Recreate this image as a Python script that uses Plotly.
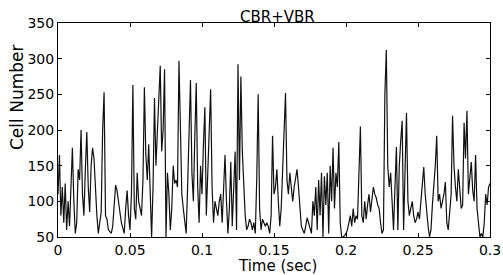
import plotly.graph_objects as go

dt = 0.001
cells = [
    110, 165, 80, 120, 70, 125, 60, 100, 65, 120,
    175, 100, 55, 70, 145, 130, 200, 110, 80, 145,
    197, 120, 85, 150, 175, 160, 110, 80, 55, 75,
    85, 200, 253, 80, 75, 60, 58, 55, 65, 95,
    123, 115, 95, 85, 70, 60, 55, 90, 115, 80,
    60, 110, 263, 90, 75, 140, 100, 90, 80, 130,
    260, 165, 130, 180, 110, 50, 120, 245, 150, 200,
    230, 290, 170, 200, 285, 50, 140, 110, 60, 90,
    150, 125, 130, 120, 297, 180, 110, 90, 70, 55,
    120, 200, 270, 140, 100, 190, 266, 120, 70, 150,
    110, 180, 232, 80, 150, 200, 257, 120, 70, 100,
    90, 80, 100, 110, 70, 120, 165, 100, 55, 90,
    155, 65, 120, 170, 60, 292, 130, 275, 170, 110,
    80, 60, 65, 75, 70, 60, 70, 55, 130, 250,
    90, 60, 75, 70, 65, 70, 65, 55, 80, 192,
    110, 120, 145, 100, 65, 90, 145, 180, 252, 130,
    110, 140, 120, 100, 120, 130, 145, 120, 90, 65,
    60, 55, 65, 77, 70, 60, 55, 100, 80, 120,
    60, 130, 80, 140, 50, 135, 95, 140, 55, 150,
    100, 175, 90, 140, 120, 183, 70, 50, 50, 52,
    55, 60, 70, 80, 65, 90, 70, 80, 75, 140,
    205, 80, 70, 100, 75, 95, 110, 85, 100, 120,
    110, 105, 95, 90, 70, 55, 60, 250, 312, 150,
    120, 140, 100, 60, 120, 176, 60, 150, 185, 213,
    60, 150, 224, 100, 80, 90, 100, 80, 70, 75,
    85, 75, 100, 130, 148, 110, 80, 65, 50, 60,
    95, 120, 150, 192, 100, 110, 90, 100, 110, 127,
    70, 60, 85, 110, 220, 150, 120, 100, 145, 120,
    90, 95, 210, 160, 227, 110, 130, 155, 115, 100,
    165, 90, 70, 50, 55, 50, 70, 110, 95, 120,
    125,
]
times = [i * dt for i in range(len(cells))]

x_ticks = [0, 0.05, 0.1, 0.15, 0.2, 0.25, 0.3]
x_tick_labels = ["0", "0.05", "0.1", "0.15", "0.2", "0.25", "0.3"]
y_ticks = [50, 100, 150, 200, 250, 300, 350]

title_text = "CBR+VBR"
x_title = "Time (sec)"
y_title = "Cell Number"

FONT = "DejaVu Sans"

W, H = 503, 275
L, R, T, B = 58, 13, 23, 38

fig = go.Figure()
fig.add_trace(go.Scatter(
    x=times, y=cells, mode="lines",
    line=dict(color="#111111", width=1.2),
    showlegend=False, hoverinfo="skip",
))

axis_common = dict(
    showgrid=False, zeroline=False,
    showline=True, linecolor="black", linewidth=1, mirror="ticks",
    ticks="inside", ticklen=4, tickcolor="black",
    tickfont=dict(family=FONT, size=14, color="black"),
)

pw = W - L - R
ph = H - T - B


def px_to_paper(px, py):
    return (px - L) / pw, (H - B - py) / ph


tx, ty = px_to_paper(277, 17)
xx, xy = px_to_paper(277, 266)
yx, yy = px_to_paper(17, 98)

fig.update_layout(
    width=W, height=H,
    margin=dict(l=L, r=R, t=T, b=B, autoexpand=False),
    paper_bgcolor="white", plot_bgcolor="white",
    xaxis=dict(range=[0, 0.3], tickvals=x_ticks, ticktext=x_tick_labels, **axis_common),
    yaxis=dict(range=[50, 350], tickvals=y_ticks, **axis_common),
    annotations=[
        dict(text=title_text, x=tx, y=ty, xref="paper", yref="paper",
             xanchor="center", yanchor="middle", showarrow=False,
             font=dict(family=FONT, size=15, color="black")),
        dict(text=x_title, x=xx, y=xy, xref="paper", yref="paper",
             xanchor="center", yanchor="middle", showarrow=False,
             font=dict(family=FONT, size=15, color="black")),
        dict(text=y_title, x=yx, y=yy, xref="paper", yref="paper",
             xanchor="center", yanchor="middle", textangle=-90, showarrow=False,
             font=dict(family=FONT, size=17, color="black")),
    ],
)

fig.write_html(
    "out.html",
    config={"displayModeBar": False},
    post_script="document.body.style.margin='0';document.body.style.overflow='hidden';",
)
